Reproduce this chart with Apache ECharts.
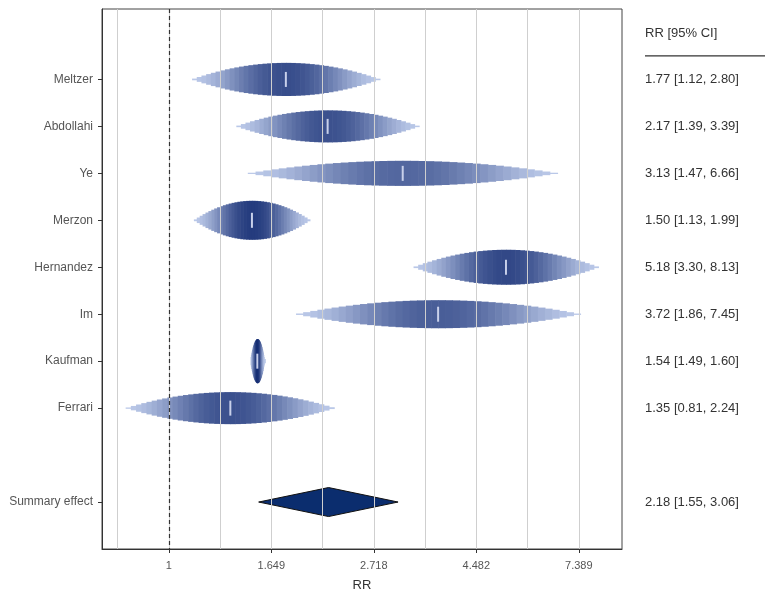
<!DOCTYPE html>
<html><head><meta charset="utf-8">
<script src="https://cdn.jsdelivr.net/npm/echarts@6/dist/echarts.min.js"></script>
<style>html,body{margin:0;padding:0;background:#fff}#c{width:771px;height:593px}</style>
</head><body><div id="c"></div>
<script>
// ---- data ----
const studies = ['Meltzer','Abdollahi','Ye','Merzon','Hernandez','Im','Kaufman','Ferrari'];
const rr      = [1.77, 2.17, 3.13, 1.50, 5.18, 3.72, 1.54, 1.35];
const lower   = [1.12, 1.39, 1.47, 1.13, 3.30, 1.86, 1.49, 0.81];
const upper   = [2.80, 3.39, 6.66, 1.99, 8.13, 7.45, 1.60, 2.24];
const weights = [12.4, 12.0, 9.4, 14.6, 13.1, 10.5, 16.5, 12.0]; // relative study weights (%)
const summaryName = 'Summary effect';
const summaryValues = [2.18, 1.55, 3.06]; // RR, lower, upper
const tickValuesLn = [0, 0.5, 1, 1.5, 2];
const tickLabels = ['1', '1.649', '2.718', '4.482', '7.389'];
const gridValuesLn = [-0.25, 0, 0.25, 0.5, 0.75, 1, 1.25, 1.5, 1.75, 2];
const headerText = 'RR [95% CI]';
const axisTitle = 'RR';

// ---- derived ----
const ln = Math.log;
const summaryRow = studies.length + 1;
const allLo = lower.concat([summaryValues[1]]).map(ln);
const allHi = upper.concat([summaryValues[2]]).map(ln);
const lnMin = Math.min(...allLo), lnMax = Math.max(...allHi);
const span = lnMax - lnMin;
const xMin = lnMin - 0.05 * span, xMax = lnMax + 0.05 * span;
const yMin = -1.5, yMax = summaryRow + 1;
const maxW = Math.max(...weights);
const fmt = v => v.toFixed(2);
const ciText = (a, b, c) => fmt(a) + ' [' + fmt(b) + ', ' + fmt(c) + ']';

const rowPositions = studies.map((s, i) => i).concat([summaryRow]);
const rowNames = studies.concat([summaryName]);
const FONT = '"Liberation Sans", Arial, sans-serif';

const light = [186, 200, 232], dark = [20, 44, 114];
function mix(t) {
  t = Math.max(0, Math.min(1, t));
  const c = light.map((l, k) => Math.round(l + (dark[k] - l) * t));
  return 'rgb(' + c.join(',') + ')';
}

function renderDrop(params, api) {
  const mu = api.value(0), row = api.value(1), lo = api.value(2), hi = api.value(3), w = api.value(4);
  const rowPx = api.size([0, 1])[1];
  const Hmax = 0.94 * rowPx;
  const H = w / maxW * Hmax;
  const N = 40, half = (hi - lo) / 2;
  const yc = api.coord([mu, row])[1];
  const children = [];
  const peak = Math.pow(H / Hmax, 0.85);
  for (let k = 0; k < N; k++) {
    const a = lo + (hi - lo) * k / N, b = lo + (hi - lo) * (k + 1) / N, m = (a + b) / 2;
    const f = 1 - Math.pow((m - mu) / half, 2);
    const h = H * f;
    const x0 = api.coord([a, row])[0], x1 = api.coord([b, row])[0];
    children.push({ type: 'rect', shape: { x: x0, y: yc - h / 2, width: x1 - x0 + 0.6, height: h },
      style: { fill: mix(peak * Math.pow(f, 2)) } });
  }
  const xc = api.coord([mu, row])[0];
  children.push({ type: 'rect', shape: { x: xc - 1, y: yc - 7.5, width: 2, height: 15 }, style: { fill: '#c8d0ea' } });
  return { type: 'group', children };
}

function renderDiamond(params, api) {
  const mu = api.value(0), row = api.value(1), lo = api.value(2), hi = api.value(3);
  const pL = api.coord([lo, row]), pR = api.coord([hi, row]), pC = api.coord([mu, row]);
  const h = 14.5;
  return { type: 'polygon', shape: { points: [pL, [pC[0], pC[1] - h], pR, [pC[0], pC[1] + h]] },
    style: { fill: '#0b2d6e', stroke: '#111', lineWidth: 1 } };
}

const rowTexts = studies.map((s, i) => ciText(rr[i], lower[i], upper[i])).concat([ciText(...summaryValues)]);
function renderText(params, api) {
  const row = api.value(0);
  const p = api.coord([xMax, row]);
  return { type: 'text', x: p[0] + 23, y: p[1],
    style: { text: rowTexts[params.dataIndex], fill: '#333', font: '13px ' + FONT, verticalAlign: 'middle', align: 'left' } };
}

function renderHeader(params, api) {
  const p = api.coord([xMax, -1]);
  const q = api.coord([xMax, -0.5]);
  return { type: 'group', children: [
    { type: 'text', x: p[0] + 23, y: p[1] + 1, style: { text: headerText, fill: '#333', font: '13px ' + FONT, verticalAlign: 'middle', align: 'left' } },
    { type: 'line', shape: { x1: q[0] + 23, y1: q[1], x2: q[0] + 143, y2: q[1] }, style: { stroke: '#333', lineWidth: 1.2 } }
  ] };
}

const chart = echarts.init(document.getElementById('c'));
chart.setOption({
  animation: false,
  textStyle: { fontFamily: FONT },
  grid: { left: 102, right: 149, top: 9, bottom: 44, show: true, borderColor: '#444', borderWidth: 1,
    backgroundColor: 'transparent', containLabel: false, outerBoundsMode: 'none' },
  xAxis: {
    type: 'value', min: xMin, max: xMax,
    axisLine: { show: true, onZero: false, lineStyle: { color: '#333' } },
    axisTick: { show: true, length: 4, customValues: tickValuesLn, lineStyle: { color: '#333' } },
    axisLabel: { customValues: tickValuesLn, fontSize: 11, color: '#555', margin: 11,
      formatter: v => { const i = tickValuesLn.findIndex(t => Math.abs(t - v) < 1e-9); return i >= 0 ? tickLabels[i] : ''; } },
    splitLine: { show: false },
    name: axisTitle, nameLocation: 'middle', nameGap: 30, nameTextStyle: { fontSize: 13, color: '#333' }
  },
  yAxis: {
    type: 'value', min: yMin, max: yMax, inverse: true,
    axisLine: { show: true, onZero: false, lineStyle: { color: '#333' } },
    axisTick: { show: true, length: 4, customValues: rowPositions, lineStyle: { color: '#333' } },
    axisLabel: { customValues: rowPositions, fontSize: 12, color: '#555', margin: 9,
      formatter: v => { const i = rowPositions.indexOf(Math.round(v)); return i >= 0 ? rowNames[i] : ''; } },
    splitLine: { show: false }
  },
  series: [
    { type: 'line', data: [], silent: true, z: 1,
      markLine: { silent: true, symbol: 'none', label: { show: false }, animation: false,
        lineStyle: { color: '#cfcfcf', width: 1, type: 'solid' },
        data: gridValuesLn.map(v => ({ xAxis: v })) } },
    { type: 'custom', renderItem: renderDrop, z: 3,
      data: studies.map((s, i) => [ln(rr[i]), i, ln(lower[i]), ln(upper[i]), weights[i]]),
      encode: { x: [0, 2, 3], y: 1 } },
    { type: 'custom', renderItem: renderDiamond, z: 3,
      data: [[ln(summaryValues[0]), summaryRow, ln(summaryValues[1]), ln(summaryValues[2])]],
      encode: { x: [0, 2, 3], y: 1 } },
    { type: 'line', data: [], silent: true, z: 5,
      markLine: { silent: true, symbol: 'none', label: { show: false }, animation: false,
        lineStyle: { color: '#333', width: 1.2, type: [4, 3] },
        data: [{ xAxis: 0 }] } },
    { type: 'custom', renderItem: renderText, clip: false, z: 5,
      data: rowPositions.map(r => [r]), encode: { y: 0 } },
    { type: 'custom', renderItem: renderHeader, clip: false, z: 5,
      data: [[-1]], encode: { y: 0 } }
  ]
});
</script></body></html>
